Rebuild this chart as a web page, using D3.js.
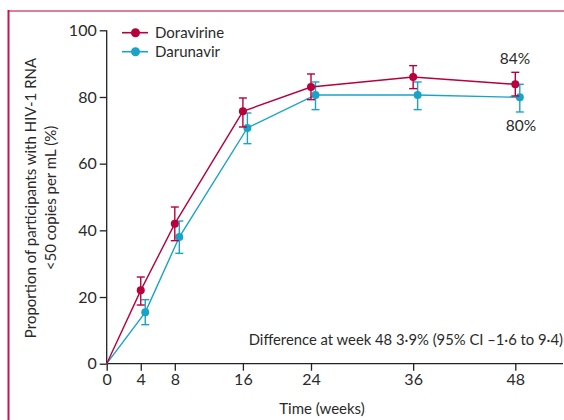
<!DOCTYPE html>
<html>
<head>
<meta charset="utf-8">
<script src="https://cdn.jsdelivr.net/npm/d3@7"></script>
<style>
  body { margin: 0; background: #fff; }
  svg { display: block; font-family: Lato, "Open Sans", sans-serif; }
</style>
</head>
<body>
<div id="chart"></div>
<script>
// weeks on x, % with HIV-1 RNA <50 copies per mL on y
var weeks = [0, 4, 8, 16, 24, 36, 48];
var doraVal = [0, 22, 42, 75.7, 83, 86, 83.8];
var doraLo  = [null, 17.6, 36.9, 71, 79.2, 82.5, 80.3];
var doraHi  = [null, 26, 47, 79.7, 86.9, 89.4, 87.4];
var daruVal = [0, 15.4, 38, 70.7, 80.6, 80.6, 79.9];
var daruLo  = [null, 11.7, 33.1, 66, 76.2, 76.2, 75.5];
var daruHi  = [null, 19.2, 42.8, 75.2, 84.5, 84.5, 83.8];
var xTicks = [0, 4, 8, 16, 24, 36, 48];
var yTicks = [0, 20, 40, 60, 80, 100];

var W = 564, H = 420;
var RED = "#b8003c", TEAL = "#1aa3c9";
var INK = "#2a2a2a";

var svg = d3.select("#chart").append("svg")
    .attr("width", W)
    .attr("height", H);

// frame lines
svg.append("line").attr("x1", 8).attr("x2", W).attr("y1", 11).attr("y2", 11)
    .attr("stroke", "#e07e98").attr("stroke-width", 2);
svg.append("line").attr("x1", 8.5).attr("x2", 8.5).attr("y1", 10).attr("y2", H)
    .attr("stroke", "#c8154a").attr("stroke-width", 2);

var x = d3.scaleLinear().domain([0, 48]).range([106.7, 515.3]);
var y = d3.scaleLinear().domain([0, 100]).range([363.7, 30.3]);

var xAxis = d3.axisBottom(x).tickValues(xTicks).tickSize(7).tickPadding(3);
var yAxis = d3.axisLeft(y).tickValues(yTicks).tickSize(7).tickPadding(3);

var gx = svg.append("g")
    .attr("transform", "translate(0," + y(0) + ")")
    .call(xAxis);
gx.select(".domain").attr("d", "M" + x(0) + ",0H563");

var gy = svg.append("g")
    .attr("transform", "translate(" + x(0) + ",0)")
    .call(yAxis);
gy.select(".domain").attr("d", "M0," + y(100) + "V" + y(0));

svg.selectAll(".tick text").attr("font-size", 16).attr("fill", INK)
    .attr("font-family", "Lato, sans-serif");
svg.selectAll(".domain, .tick line").attr("stroke", "#222").attr("stroke-width", 1.3);

// axis titles
svg.append("text")
    .attr("x", 322).attr("y", 414)
    .attr("text-anchor", "middle")
    .attr("font-size", 15).attr("fill", INK)
    .text("Time (weeks)");

var yt = svg.append("text")
    .attr("transform", "translate(36,198) rotate(-90)")
    .attr("text-anchor", "middle")
    .attr("font-size", 15).attr("fill", INK);
yt.append("tspan").attr("x", 0).attr("dy", 0).text("Proportion of participants with HIV-1 RNA");
yt.append("tspan").attr("x", 0).attr("dy", 20).text("<50 copies per mL (%)");

function series(vals, lo, hi, color, dx) {
    var pts = weeks.map(function(w, i) {
        return { x: x(w) + (i === 0 ? 0 : dx), v: vals[i], lo: lo[i], hi: hi[i] };
    });
    var g = svg.append("g");
    g.append("path")
        .datum(pts)
        .attr("fill", "none")
        .attr("stroke", color)
        .attr("stroke-width", 1.4)
        .attr("d", d3.line().x(function(d) { return d.x; }).y(function(d) { return y(d.v); }));
    var eb = g.selectAll(".eb").data(pts.filter(function(d) { return d.lo != null; }))
        .enter().append("g").attr("stroke", color).attr("stroke-width", 1.4);
    eb.append("line").attr("x1", function(d) { return d.x; }).attr("x2", function(d) { return d.x; })
        .attr("y1", function(d) { return y(d.lo); }).attr("y2", function(d) { return y(d.hi); });
    eb.append("line").attr("x1", function(d) { return d.x - 4; }).attr("x2", function(d) { return d.x + 4; })
        .attr("y1", function(d) { return y(d.lo); }).attr("y2", function(d) { return y(d.lo); });
    eb.append("line").attr("x1", function(d) { return d.x - 4; }).attr("x2", function(d) { return d.x + 4; })
        .attr("y1", function(d) { return y(d.hi); }).attr("y2", function(d) { return y(d.hi); });
    g.selectAll("circle").data(pts.slice(1)).enter().append("circle")
        .attr("cx", function(d) { return d.x; })
        .attr("cy", function(d) { return y(d.v); })
        .attr("r", 4)
        .attr("fill", color);
}

series(daruVal, daruLo, daruHi, TEAL, 4.5);
series(doraVal, doraLo, doraHi, RED, 0);

// legend
var legend = [["Doravirine", RED, 32.7], ["Darunavir", TEAL, 51.7]];
legend.forEach(function(l) {
    svg.append("line").attr("x1", 122).attr("x2", 148).attr("y1", l[2]).attr("y2", l[2])
        .attr("stroke", l[1]).attr("stroke-width", 1.6);
    svg.append("circle").attr("cx", 135.5).attr("cy", l[2]).attr("r", 4.5).attr("fill", l[1]);
    svg.append("text").attr("x", 155).attr("y", l[2] + 5.5)
        .attr("font-size", 15).attr("fill", INK).text(l[0]);
});

// end labels
svg.append("text").attr("x", 515).attr("y", 64).attr("text-anchor", "middle")
    .attr("font-size", 15.5).attr("fill", INK).text("84%");
svg.append("text").attr("x", 521).attr("y", 131).attr("text-anchor", "middle")
    .attr("font-size", 15.5).attr("fill", INK).text("80%");

svg.append("text").attr("x", 563).attr("y", 345).attr("text-anchor", "end")
    .attr("font-size", 14.8).attr("fill", INK)
    .text("Difference at week 48 3·9% (95% CI –1·6 to 9·4)");
</script>
</body>
</html>
